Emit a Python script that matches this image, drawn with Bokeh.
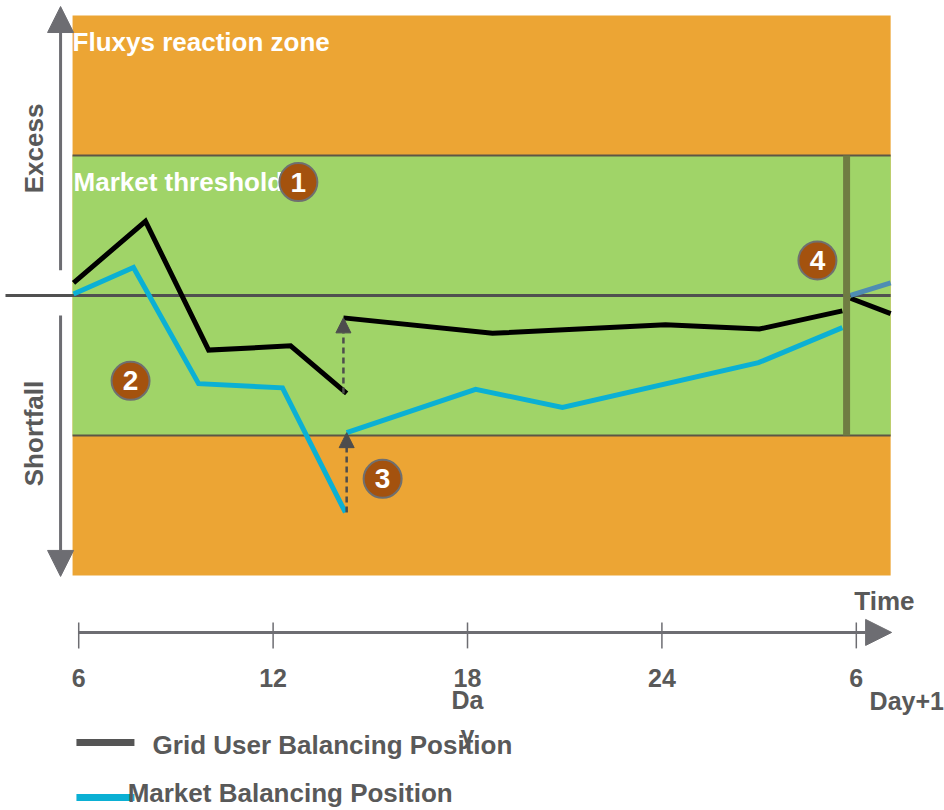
from math import pi
from bokeh.plotting import figure
from bokeh.models import Range1d, Arrow, NormalHead
from bokeh.core.properties import value
from bokeh.embed import file_html
from bokeh.resources import INLINE

# ---------------- data ----------------
tick_hours = [6, 12, 18, 24, 30]
tick_labels = ["6", "12", "18", "24", "6"]

zone_limit = 2.0          # Fluxys reaction zone (orange) extends to +/- this
market_threshold = 1.0    # market threshold band (green) +/- this
cutoff_hour = 29.70       # end-of-day line

# Grid User Balancing Position
gu_day_hours = [5.84, 8.06, 10.01, 12.54, 14.27]
gu_day_pos = [0.09, 0.53, -0.39, -0.36, -0.70]
gu_renom_hours = [14.17, 18.77, 24.11, 27.01, 29.57]
gu_renom_pos = [-0.16, -0.27, -0.21, -0.24, -0.11]
gu_next_hours = [29.82, 31.06]
gu_next_pos = [-0.02, -0.13]

# Market Balancing Position
mkt_day_hours = [5.84, 7.69, 9.70, 12.29, 14.23]
mkt_day_pos = [0.01, 0.20, -0.63, -0.66, -1.55]
mkt_renom_hours = [14.27, 18.25, 20.93, 26.98, 29.57]
mkt_renom_pos = [-0.98, -0.67, -0.80, -0.48, -0.23]
mkt_next_hours = [29.82, 31.06]
mkt_next_pos = [0.00, 0.09]

marker_labels = ["1", "2", "3", "4"]
marker_x = [12.78, 7.60, 15.38, 28.80]
marker_y = [0.81, -0.61, -1.31, 0.25]

legend_labels = ["Grid User Balancing Position", "Market Balancing Position"]

# ---------------- style / layout ----------------
ORANGE = "#eca534"
GREEN = "#a0d468"
TXT = "#595959"
AXIS = "#6d6d72"
BLACK = "#000000"
BLUE = "#0bb0d4"
STEEL = "#4e8db3"
BROWN = "#a4520e"
FONT = value("Liberation Sans")

x_left, x_right = 5.81, 31.06
axis_y = -2.407

p = figure(width=944, height=810, output_backend="svg", toolbar_location=None,
           x_range=Range1d(3.586, 32.722), y_range=Range1d(-3.679, 2.107),
           x_axis_type=None, y_axis_type=None, min_border=0)
p.outline_line_color = None
p.grid.visible = False
p.background_fill_color = "white"
p.border_fill_color = "white"

# bands
p.quad(left=[x_left], right=[x_right], bottom=[-zone_limit], top=[zone_limit],
       fill_color=ORANGE, line_color=None)
p.quad(left=[x_left], right=[x_right], bottom=[-market_threshold], top=[market_threshold],
       fill_color=GREEN, line_color=None)
p.segment(x0=[x_left, x_left], y0=[market_threshold, -market_threshold],
          x1=[x_right, x_right], y1=[market_threshold, -market_threshold],
          line_color="#5c5646", line_width=2)
# zero line
p.segment(x0=[3.74], y0=[0], x1=[x_right], y1=[0], line_color="#505050", line_width=3)

# text in zones
p.text(x=[x_left], y=[1.807], text=["Fluxys reaction zone"], text_font=FONT,
       text_font_style="bold", text_font_size="26px", text_color="white",
       text_align="left", text_baseline="middle")
p.text(x=[x_left + 0.03], y=[0.814], text=["Market threshold"], text_font=FONT,
       text_font_style="bold", text_font_size="26px", text_color="white",
       text_align="left", text_baseline="middle")

# data lines
lw = 5
p.line(gu_day_hours, gu_day_pos, line_color=BLACK, line_width=lw, line_join="miter")
p.line(gu_renom_hours, gu_renom_pos, line_color=BLACK, line_width=lw, line_join="miter")
p.line(gu_next_hours, gu_next_pos, line_color=BLACK, line_width=lw, line_join="miter")
p.line(mkt_day_hours, mkt_day_pos, line_color=BLUE, line_width=lw, line_join="miter")
p.line(mkt_renom_hours, mkt_renom_pos, line_color=BLUE, line_width=lw, line_join="miter")
p.line(mkt_next_hours, mkt_next_pos, line_color=STEEL, line_width=lw, line_join="miter")

# end of day bar
p.segment(x0=[cutoff_hour], y0=[-market_threshold], x1=[cutoff_hour], y1=[market_threshold],
          line_color="#6f7c42", line_width=7)

# dashed correction arrows
for xs, y0, y1 in [(gu_renom_hours[0], gu_day_pos[-1], gu_renom_pos[0]),
                   (mkt_renom_hours[0], mkt_day_pos[-1], mkt_renom_pos[0])]:
    p.add_layout(Arrow(end=NormalHead(size=15, fill_color="#4d4d4d", line_color="#4d4d4d"),
                       x_start=xs, y_start=y0, x_end=xs, y_end=y1,
                       line_color="#4d4d4d", line_width=2.5, line_dash="6 4"))

# numbered markers
p.scatter(marker_x, marker_y, size=38, fill_color=BROWN, line_color="#6f6f6f", line_width=2)
p.text(x=marker_x, y=marker_y, text=marker_labels, text_font=FONT, text_font_style="bold",
       text_font_size="28px", text_color="white", text_align="center", text_baseline="middle")

# vertical Excess / Shortfall arrows
p.add_layout(Arrow(end=NormalHead(size=26, fill_color=AXIS, line_color=AXIS),
                   x_start=5.44, y_start=0.18, x_end=5.44, y_end=2.064,
                   line_color=AXIS, line_width=3))
p.add_layout(Arrow(end=NormalHead(size=26, fill_color=AXIS, line_color=AXIS),
                   x_start=5.44, y_start=-0.143, x_end=5.44, y_end=-2.007,
                   line_color=AXIS, line_width=3))
p.text(x=[4.605, 4.605], y=[1.05, -0.986], text=["Excess", "Shortfall"], angle=pi / 2,
       text_font=FONT, text_font_style="bold", text_font_size="26px", text_color=TXT,
       text_align="center", text_baseline="middle")

# time axis
p.add_layout(Arrow(end=NormalHead(size=26, fill_color=AXIS, line_color=AXIS),
                   x_start=tick_hours[0], y_start=axis_y, x_end=31.09, y_end=axis_y,
                   line_color=AXIS, line_width=3))
p.segment(x0=tick_hours, y0=[axis_y + 0.071] * len(tick_hours),
          x1=tick_hours, y1=[axis_y - 0.114] * len(tick_hours),
          line_color=AXIS, line_width=1.5)
p.text(x=tick_hours, y=[-2.736] * len(tick_hours), text=tick_labels, text_font=FONT,
       text_font_style="bold", text_font_size="25px", text_color=TXT,
       text_align="center", text_baseline="middle")
p.text(x=[29.94], y=[-2.179], text=["Time"], text_font=FONT, text_font_style="bold",
       text_font_size="26px", text_color=TXT, text_align="left", text_baseline="middle")
p.text(x=[30.41], y=[-2.90], text=["Day+1"], text_font=FONT, text_font_style="bold",
       text_font_size="25px", text_color=TXT, text_align="left", text_baseline="middle")

# legend (drawn manually)
p.segment(x0=[5.93, 5.93], y0=[-3.193, -3.586], x1=[7.72, 7.72], y1=[-3.193, -3.586],
          line_color=["#555555", BLUE], line_width=7)
p.text(x=[8.28, 7.51], y=[-3.211, -3.557], text=legend_labels, text_font=FONT,
       text_font_style="bold", text_font_size="26px", text_color=TXT,
       text_align="left", text_baseline="middle")

p.text(x=[18], y=[-2.79], text=["Da\ny"], text_font=FONT, text_font_style="bold",
       text_font_size="25px", text_color=TXT, text_align="center", text_baseline="top",
       text_line_height=1.25)

open("out.html", "w").write(file_html(p, INLINE))
